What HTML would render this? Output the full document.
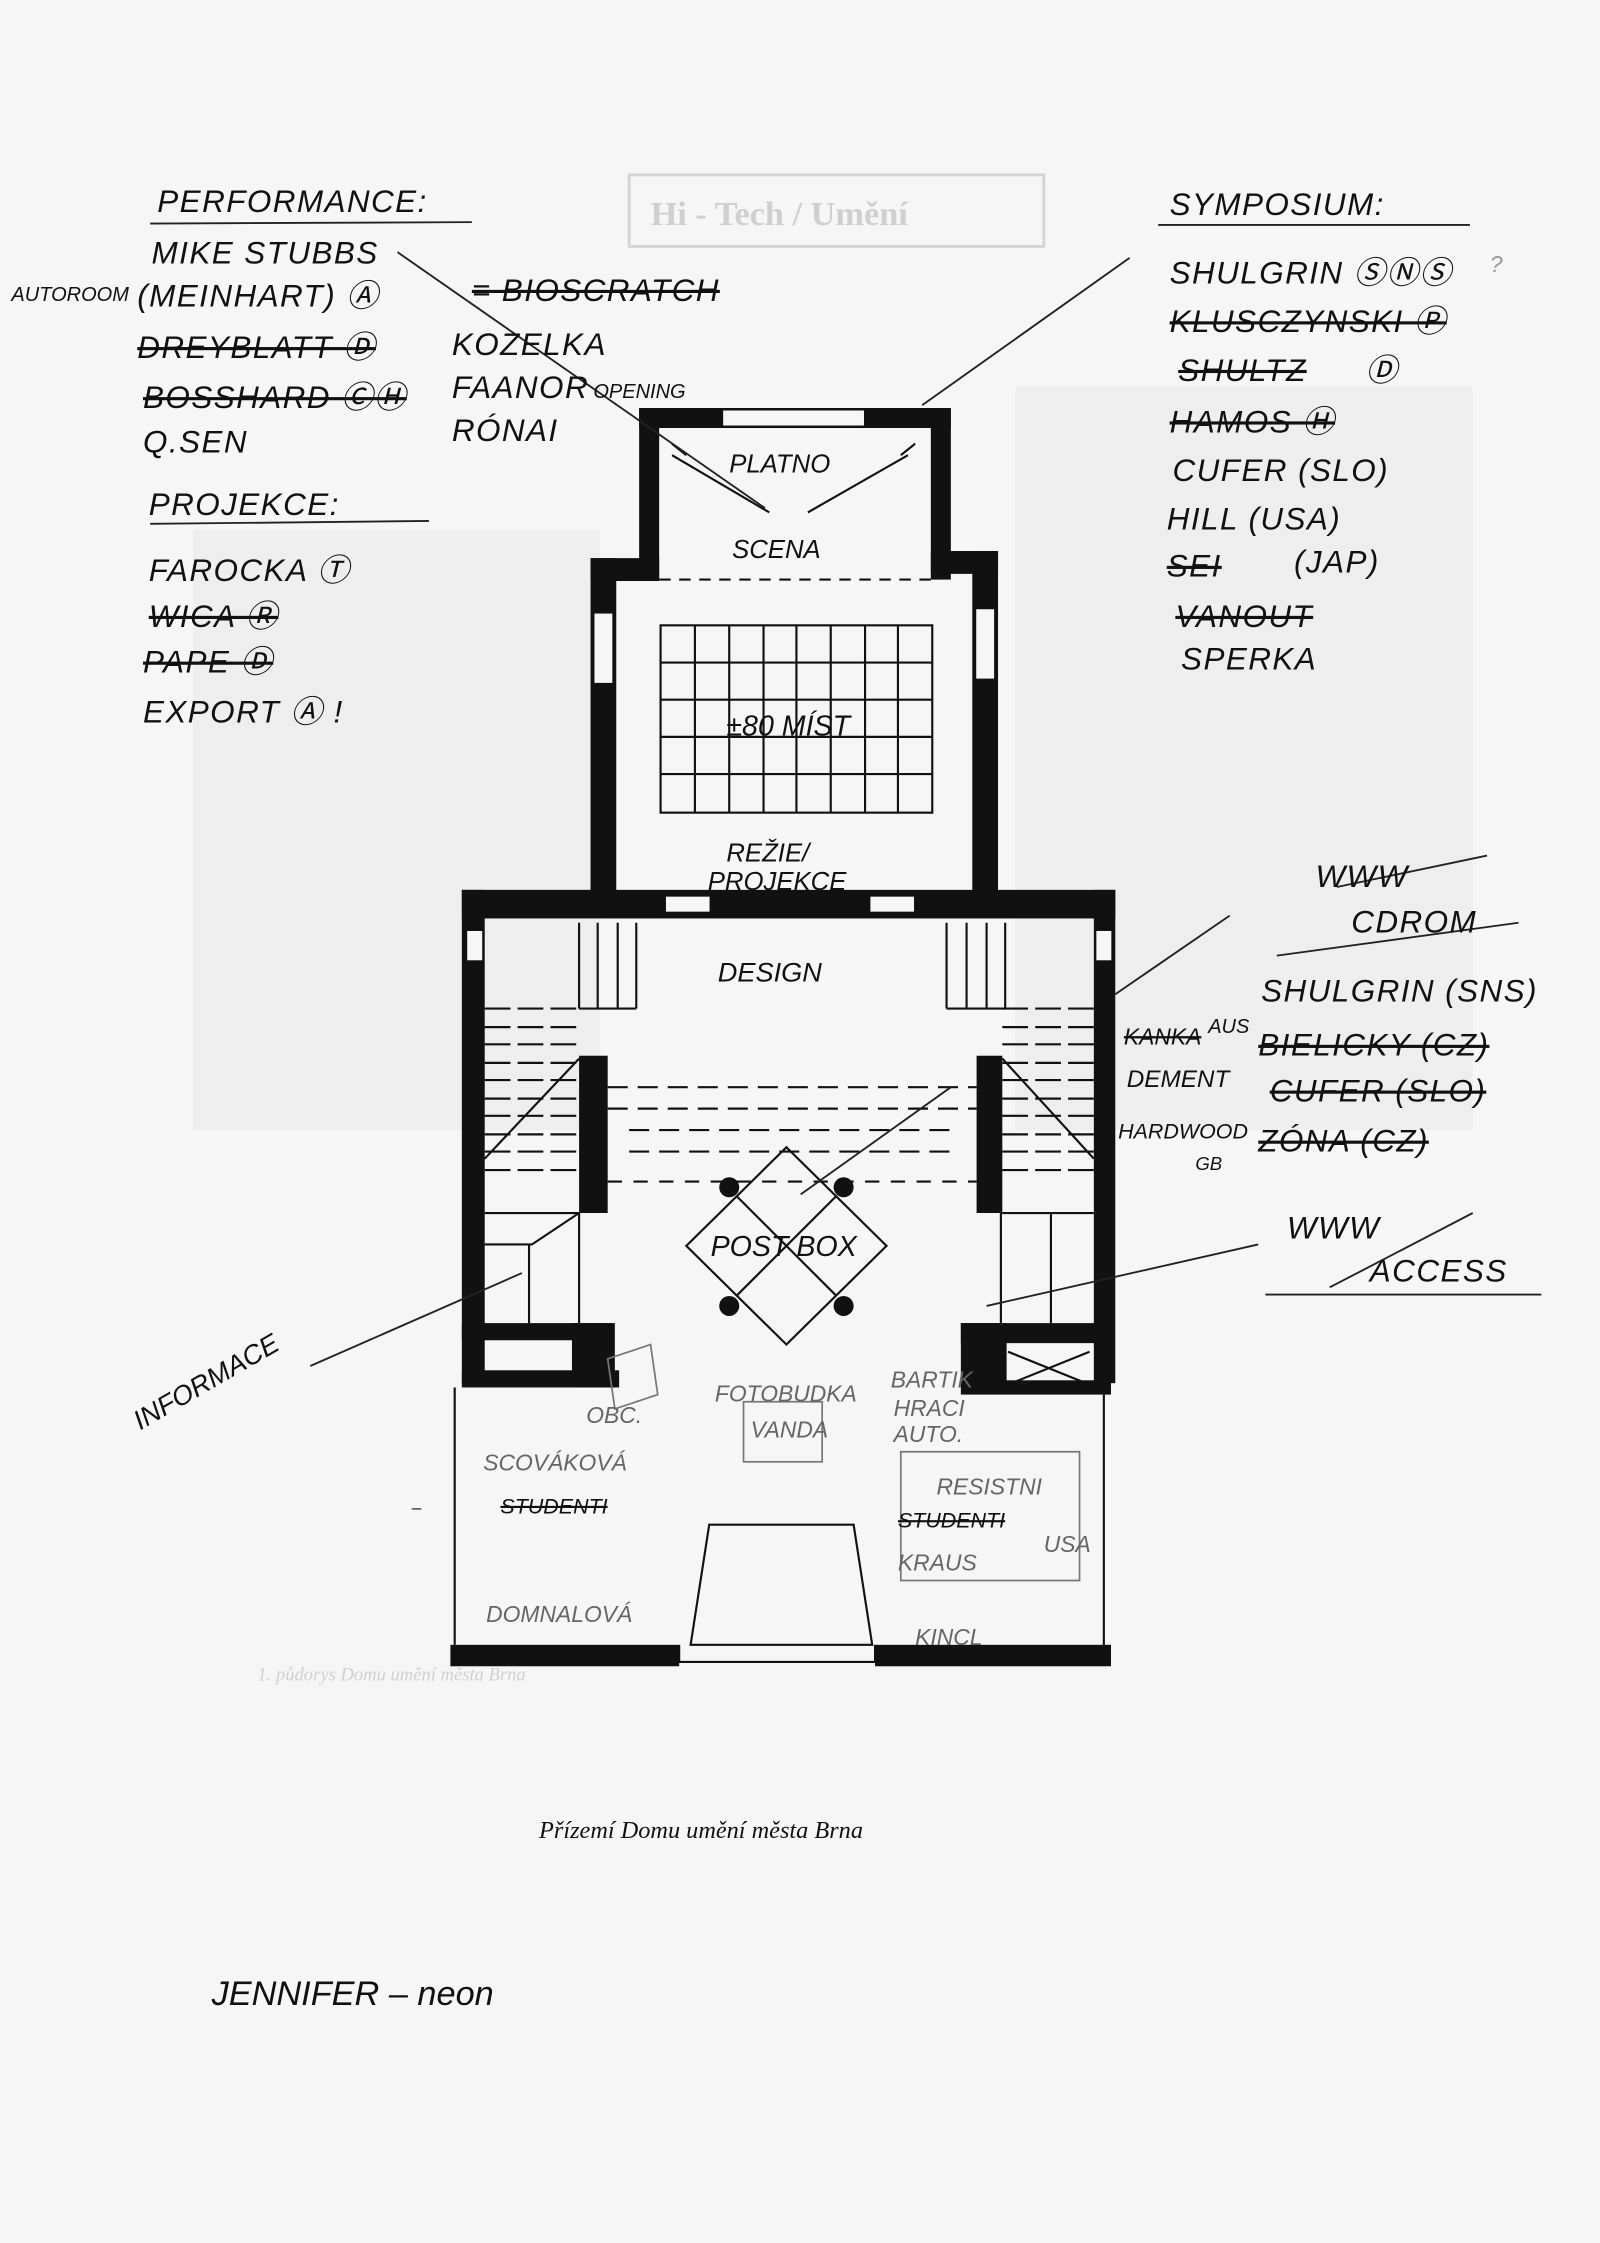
<!DOCTYPE html>
<html><head><meta charset="utf-8"><style>
html,body{margin:0;padding:0;background:#f6f6f6;}
svg{display:block;}
text{font-family:"Liberation Sans",sans-serif;font-style:italic;fill:#111;}
.h{font-size:22px;letter-spacing:1px;}
.g{fill:#666;font-size:16px;}
</style></head><body>
<svg width="1600" height="2243" viewBox="0 0 1119 1568" xmlns="http://www.w3.org/2000/svg">
<rect width="1119" height="1568" fill="#f6f6f6"/>
<!-- faint background plan -->
<g fill="#eeeeee">
<rect x="135" y="370" width="285" height="420"/>
<rect x="710" y="270" width="320" height="520"/>
</g>
<rect x="440" y="122" width="290" height="50" fill="none" stroke="#d4d4d4" stroke-width="2"/>
<text x="455" y="157" font-size="24" style="fill:#cfcfcf;font-style:normal;font-weight:bold;font-family:'Liberation Serif',serif">Hi - Tech / Umění</text>
<text x="180" y="1175" font-size="13" style="fill:#d0d0d0;font-family:'Liberation Serif',serif">1. půdorys Domu umění města Brna</text>

<!-- Stage box -->
<g fill="#111">
<rect x="447" y="285" width="218" height="14"/>
<rect x="447" y="285" width="14" height="120"/>
<rect x="651" y="285" width="14" height="120"/>
<rect x="413" y="390" width="48" height="16"/>
<rect x="651" y="385" width="47" height="16"/>
<rect x="413" y="390" width="18" height="245"/>
<rect x="680" y="385" width="18" height="250"/>
<rect x="323" y="622" width="457" height="20"/>
<rect x="323" y="622" width="16" height="345"/>
<rect x="765" y="622" width="15" height="345"/>
<rect x="405" y="738" width="20" height="110"/>
<rect x="683" y="738" width="18" height="110"/>
<rect x="323" y="925" width="105" height="12"/>
<rect x="400" y="925" width="30" height="45"/>
<rect x="323" y="958" width="110" height="12"/>
<rect x="672" y="925" width="105" height="14"/>
<rect x="672" y="925" width="32" height="45"/>
<rect x="672" y="965" width="105" height="10"/>
<rect x="315" y="1150" width="160" height="15"/>
<rect x="612" y="1150" width="165" height="15"/>
</g>
<g fill="#f6f6f6" stroke="#111" stroke-width="1.5">
<rect x="505" y="286" width="100" height="12"/>
<rect x="415" y="428" width="14" height="50"/>
<rect x="682" y="425" width="14" height="50"/>
<rect x="465" y="626" width="32" height="12"/>
<rect x="608" y="626" width="32" height="12"/>
<rect x="326" y="650" width="12" height="22"/>
<rect x="766" y="650" width="12" height="22"/>
</g>
<g stroke="#111" stroke-width="1.5" fill="none">
<line x1="461" y1="405" x2="651" y2="405" stroke-dasharray="8,6"/>
<path d="M470 310 L480 318 M640 310 L630 318"/>
<line x1="470" y1="318" x2="538" y2="358"/><line x1="635" y1="318" x2="565" y2="358"/>
<rect x="462" y="437" width="190" height="131"/>
<path d="M486 437V568M510 437V568M534 437V568M557 437V568M581 437V568M605 437V568M628 437V568"/>
<path d="M462 463H652M462 489H652M462 515H652M462 541H652"/>
<path d="M318 970 V1150 M772 975 V1150"/>
<path d="M496 1066 H597 L610 1150 H483 Z"/>
<path d="M475 1150 V1162 H612 V1150"/>
<path d="M405 645 V705 M418 645 V705 M432 645 V705 M445 645 V705 M405 705 H445"/>
<path d="M662 645 V705 M676 645 V705 M690 645 V705 M703 645 V705 M662 705 H703"/>
<path d="M339 705 H405 M339 718 H405 M339 730 H405 M339 743 H405 M339 755 H405 M339 768 H405 M339 780 H405 M339 793 H405 M339 805 H405 M339 818 H405" stroke-dasharray="18,5"/>
<path d="M701 705 H765 M701 718 H765 M701 730 H765 M701 743 H765 M701 755 H765 M701 768 H765 M701 780 H765 M701 793 H765 M701 805 H765 M701 818 H765" stroke-dasharray="18,5"/>
<path d="M339 810 L405 740 M701 740 L765 810"/>
<path d="M339 848 H405 M339 870 H372 L405 848 M405 848 V925 M370 870 V925 M700 848 H765 M700 848 V925 M735 848 V925"/>
<path d="M425 760 H683 M425 775 H683 M440 790 H668 M440 805 H668" stroke-dasharray="14,7"/>
<path d="M425 826 H683" stroke-dasharray="10,8"/>
<path d="M705 945 L762 968 M762 945 L705 968"/>
<path d="M550 802 L620 871 L550 940 L480 871 Z"/>
<path d="M515 836 L585 906 M585 836 L515 906"/>
<g stroke="#777" stroke-width="1.2">
<rect x="520" y="980" width="55" height="42"/>
<path d="M630 1015 H755 V1105 H630 Z"/>
<path d="M425 950 L455 940 L460 975 L430 985 Z"/>
</g>
</g>
<g fill="#111"><circle cx="510" cy="830" r="7"/><circle cx="590" cy="830" r="7"/><circle cx="510" cy="913" r="7"/><circle cx="590" cy="913" r="7"/></g>

<g stroke="#222" stroke-width="1.3" fill="none">
<line x1="278" y1="176" x2="535" y2="355"/>
<line x1="790" y1="180" x2="645" y2="283"/>
<line x1="217" y1="955" x2="365" y2="890"/>
<line x1="860" y1="640" x2="780" y2="695"/>
<line x1="665" y1="760" x2="560" y2="835"/>
<line x1="880" y1="870" x2="690" y2="913"/>
<line x1="810" y1="157" x2="1028" y2="157"/>
<line x1="893" y1="668" x2="1062" y2="645"/>
<line x1="885" y1="905" x2="1078" y2="905"/>
<line x1="935" y1="620" x2="1040" y2="598"/>
<line x1="930" y1="900" x2="1030" y2="848"/>
<line x1="105" y1="156" x2="330" y2="155"/>
<line x1="105" y1="366" x2="300" y2="364"/>
</g>

<text class="h" x="110" y="148">PERFORMANCE:</text>
<text class="h" x="106" y="184">MIKE STUBBS</text>
<text x="8" y="210" font-size="14">AUTOROOM</text>
<text class="h" x="96" y="214">(MEINHART) Ⓐ</text>
<text class="h" x="96" y="250" text-decoration="line-through">DREYBLATT Ⓓ</text>
<text class="h" x="100" y="285" text-decoration="line-through">BOSSHARD ⒸⒽ</text>
<text class="h" x="100" y="316">Q.SEN</text>
<text class="h" x="104" y="360">PROJEKCE:</text>
<text class="h" x="104" y="406">FAROCKA Ⓣ</text>
<text class="h" x="104" y="438" text-decoration="line-through">WICA Ⓡ</text>
<text class="h" x="100" y="470" text-decoration="line-through">PAPE Ⓓ</text>
<text class="h" x="100" y="505">EXPORT Ⓐ !</text>
<text class="h" x="330" y="210" text-decoration="line-through">= BIOSCRATCH</text>
<text class="h" x="316" y="248" font-size="19">KOZELKA</text>
<text class="h" x="316" y="278" font-size="19">FAANOR</text>
<text x="415" y="278" font-size="14">OPENING</text>
<text class="h" x="316" y="308" font-size="19">RÓNAI</text>

<text x="510" y="330" font-size="18">PLATNO</text>
<text x="512" y="390" font-size="18">SCENA</text>
<text x="508" y="514" font-size="20">±80 MÍST</text>
<text x="508" y="602" font-size="18">REŽIE/</text>
<text x="495" y="622" font-size="18">PROJEKCE</text>
<text x="502" y="686" font-size="19">DESIGN</text>
<text x="497" y="878" font-size="20">POST BOX</text>
<text x="98" y="1000" font-size="19" transform="rotate(-30 98 1000)">INFORMACE</text>
<text class="g" x="500" y="980">FOTOBUDKA</text>
<text class="g" x="525" y="1005">VANDA</text>
<text class="g" x="623" y="970">BARTIK</text>
<text class="g" x="625" y="990">HRACI</text>
<text class="g" x="625" y="1008">AUTO.</text>
<text class="g" x="410" y="995">OBC.</text>
<text class="g" x="338" y="1028">SCOVÁKOVÁ</text>
<text x="350" y="1058" font-size="15" text-decoration="line-through">STUDENTI</text>
<text class="g" x="655" y="1045">RESISTNI</text>
<text x="628" y="1068" font-size="15" text-decoration="line-through">STUDENTI</text>
<text class="g" x="730" y="1085">USA</text>
<text class="g" x="628" y="1098">KRAUS</text>
<text class="g" x="340" y="1134">DOMNALOVÁ</text>
<text class="g" x="640" y="1150">KINCL</text>

<text class="h" x="818" y="150">SYMPOSIUM:</text>
<text class="h" x="818" y="198" font-size="20">SHULGRIN ⓈⓃⓈ</text>
<text x="1042" y="190" font-size="16" style="fill:#999">?</text>
<text class="h" x="818" y="232" font-size="20" text-decoration="line-through">KLUSCZYNSKI Ⓟ</text>
<text class="h" x="824" y="266" font-size="20" text-decoration="line-through">SHULTZ</text>
<text class="h" x="955" y="266" font-size="20">Ⓓ</text>
<text class="h" x="818" y="302" font-size="20" text-decoration="line-through">HAMOS Ⓗ</text>
<text class="h" x="820" y="336" font-size="20">CUFER (SLO)</text>
<text class="h" x="816" y="370" font-size="20">HILL (USA)</text>
<text class="h" x="816" y="403" font-size="20" text-decoration="line-through">SEI</text>
<text class="h" x="905" y="400" font-size="20">(JAP)</text>
<text class="h" x="822" y="438" font-size="20" text-decoration="line-through">VANOUT</text>
<text class="h" x="826" y="468" font-size="20">SPERKA</text>
<text class="h" x="920" y="620" font-size="20">WWW</text>
<text class="h" x="945" y="652" font-size="20">CDROM</text>
<text class="h" x="882" y="700" font-size="20">SHULGRIN (SNS)</text>
<text x="786" y="730" font-size="16" text-decoration="line-through">KANKA</text>
<text x="845" y="722" font-size="14">AUS</text>
<text class="h" x="880" y="738" font-size="20" text-decoration="line-through">BIELICKY (CZ)</text>
<text x="788" y="760" font-size="17">DEMENT</text>
<text class="h" x="888" y="770" font-size="20" text-decoration="line-through">CUFER (SLO)</text>
<text x="782" y="796" font-size="15">HARDWOOD</text>
<text x="836" y="818" font-size="13">GB</text>
<text class="h" x="880" y="805" font-size="20" text-decoration="line-through">ZÓNA (CZ)</text>
<text class="h" x="900" y="866" font-size="20">WWW</text>
<text class="h" x="958" y="896" font-size="20">ACCESS</text>

<text x="377" y="1285" font-size="17" style="font-family:'Liberation Serif',serif">Přízemí Domu umění města Brna</text>
<text x="148" y="1402" font-size="24">JENNIFER – neon</text>
<text x="288" y="1058" font-size="12">–</text>
</svg>
</body></html>
